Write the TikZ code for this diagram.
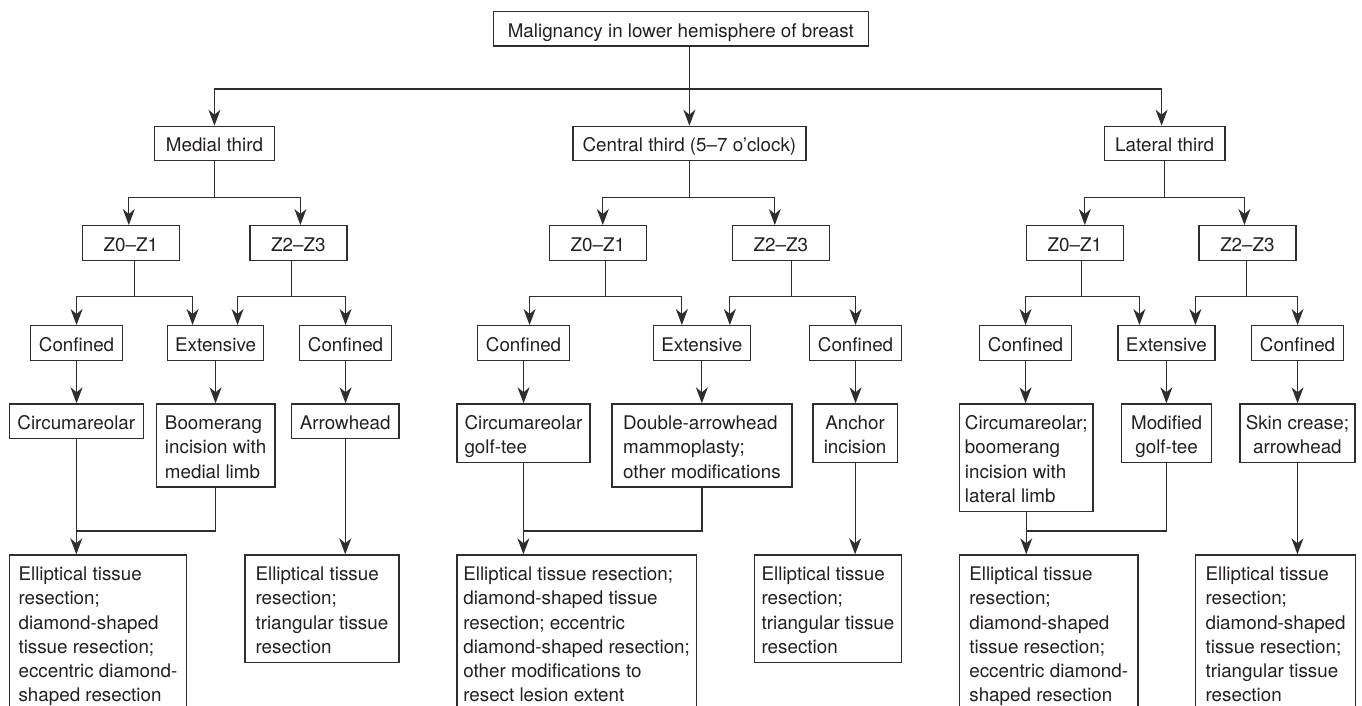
\documentclass[tikz,border=0pt]{standalone}
\usepackage{fontspec}
\setmainfont{TeX Gyre Heros}
\usetikzlibrary{arrows.meta}

\definecolor{inkline}{HTML}{2E2E2E}
\definecolor{inktext}{HTML}{231F20}

% struts for the first and last line of a box
\newcommand\topln{\rule{0pt}{17.5pt}}
\newcommand\lastln[1]{\smash{#1}\rule[-1pt]{0pt}{1pt}}

\tikzset{
  cell/.style={draw=inkline, line width=1.2pt, text=inktext, anchor=north west,
    inner xsep=0pt, inner ysep=8pt, font=\fontsize{18.8}{24.3}\selectfont},
  single/.style={cell, text height=17.5pt, text depth=1pt},
  multi/.style={cell, align=left},
  cmulti/.style={cell, align=center},
  link/.style={draw=inkline, line width=1.2pt},
  arr/.style={link, -{Stealth[length=16pt,width=12pt,inset=5pt]}},
}

\begin{document}
\begin{tikzpicture}[x=1pt,y=-1pt]
\useasboundingbox (0,0) rectangle (1362,706);

% root
\node[single, minimum width=375pt] (root) at (492.7,11) {Malignancy in lower hemisphere of breast};

% thirds
\node[single, minimum width=120.3pt] (medial) at (153.7,125.7) {Medial third};
\node[single, minimum width=233pt] (central) at (572.3,125.7) {Central third (5–7 o’clock)};
\node[single, minimum width=120.6pt] (lateral) at (1103.7,125.7) {Lateral third};

% zones
\node[single, minimum width=97pt] (mz01) at (81.7,225) {Z0–Z1};
\node[single, minimum width=97pt] (mz23) at (249.3,225) {Z2–Z3};
\node[single, minimum width=97pt] (cz01) at (548.7,225) {Z0–Z1};
\node[single, minimum width=97pt] (cz23) at (731.7,225) {Z2–Z3};
\node[single, minimum width=97pt] (lz01) at (1025.7,225) {Z0–Z1};
\node[single, minimum width=97pt] (lz23) at (1198.3,225) {Z2–Z3};

% extent
\node[single, minimum width=92.5pt] (mcon1) at (29.7,325) {Confined};
\node[single, minimum width=96.5pt] (mext) at (166.7,325) {Extensive};
\node[single, minimum width=92.5pt] (mcon2) at (298.7,325) {Confined};
\node[single, minimum width=92.5pt] (ccon1) at (476.7,325) {Confined};
\node[single, minimum width=96.5pt] (cext) at (653,325) {Extensive};
\node[single, minimum width=92.5pt] (ccon2) at (808.7,325) {Confined};
\node[single, minimum width=92.5pt] (lcon1) at (978.7,325) {Confined};
\node[single, minimum width=97pt] (lext) at (1117.3,325) {Extensive};
\node[single, minimum width=92.5pt] (lcon2) at (1250.7,325) {Confined};

% incisions
\node[single, minimum width=134pt] (mcirc) at (8.7,403.3) {Circumareolar};
\node[multi, minimum width=118.6pt] (mboom) at (155.7,403.3) {\topln Boomerang\\incision with\\\lastln{medial limb}};
\node[single, minimum width=107.3pt] (marrow) at (291,403.3) {Arrowhead};
\node[multi, minimum width=133pt] (cgolf) at (456.3,403.3) {\topln Circumareolar\\\lastln{golf-tee}};
\node[multi, minimum width=180pt] (cdouble) at (611.3,403.3) {\topln Double-arrowhead\\mammoplasty;\\\lastln{other modifications}};
\node[cmulti, minimum width=84.4pt] (canchor) at (812.3,403.3) {\topln Anchor\\\lastln{incision}};
\node[multi, minimum width=133.3pt] (lcirc) at (959,403.3) {\topln Circumareolar;\\boomerang\\incision with\\\lastln{lateral limb}};
\node[cmulti, minimum width=90pt] (lmod) at (1121,403.3) {\topln Modified\\\lastln{golf-tee}};
\node[cmulti, minimum width=115pt] (lskin) at (1239.3,403.3) {\topln Skin crease;\\\lastln{arrowhead}};

% resections
\node[multi, minimum width=177.3pt] (mres1) at (8.7,554.3) {\topln Elliptical tissue\\resection;\\diamond-shaped\\tissue resection;\\eccentric diamond-\\shaped resection};
\node[multi, minimum width=154pt] (mres2) at (244.3,554.3) {\topln Elliptical tissue\\resection;\\triangular tissue\\\lastln{resection}};
\node[multi, minimum width=239.4pt] (cres1) at (456.3,554.3) {\topln Elliptical tissue resection;\\diamond-shaped tissue\\resection; eccentric\\diamond-shaped resection;\\other modifications to\\resect lesion extent};
\node[multi, minimum width=147.3pt] (cres2) at (753.7,554.3) {\topln Elliptical tissue\\resection;\\triangular tissue\\\lastln{resection}};
\node[multi, minimum width=178.3pt] (lres1) at (959,554.3) {\topln Elliptical tissue\\resection;\\diamond-shaped\\tissue resection;\\eccentric diamond-\\shaped resection};
\node[multi, minimum width=160pt] (lres2) at (1195,554.3) {\topln Elliptical tissue\\resection;\\diamond-shaped\\tissue resection;\\triangular tissue\\resection};

% root to thirds
\draw[arr] (root.south -| central.north) -- (central.north);
\draw[arr] (central.north |- 0,89) -| (medial.north);
\draw[arr] (central.north |- 0,89) -| ([xshift=-3pt]lateral.north);

% thirds to zones
\draw[arr] (medial.south) -- ++(0,36) coordinate (mj) -| ([xshift=-2pt]mz01.north);
\draw[arr] (mj) -| ([xshift=2pt]mz23.north);
\draw[arr] (central.south) -- ++(0,36) coordinate (cj) -| ([xshift=5pt]cz01.north);
\draw[arr] (cj) -| ([xshift=-6pt]cz23.north);
\draw[arr] (lateral.south) -- ++(0,36) coordinate (lj) -| ([xshift=10pt]lz01.north);
\draw[arr] (lj) -| ([xshift=-3pt]lz23.north);

% zones to extent
\draw[arr] ([xshift=4pt]mz01.south) -- ++(0,36) coordinate (mj1) -| (mcon1.north);
\draw[arr] (mj1) -| ([xshift=-23pt]mext.north);
\draw[arr] ([xshift=-7pt]mz23.south) -- ++(0,36) coordinate (mj2) -| ([xshift=22pt]mext.north);
\draw[arr] (mj2) -| (mcon2.north);
\draw[arr] ([xshift=8pt]cz01.south) -- ++(0,36) coordinate (cj1) -| ([xshift=6pt]ccon1.north);
\draw[arr] (cj1) -| ([xshift=-20pt]cext.north);
\draw[arr] ([xshift=11pt]cz23.south) -- ++(0,36) coordinate (cj2) -| ([xshift=28pt]cext.north);
\draw[arr] (cj2) -| (ccon2.north);
\draw[arr] ([xshift=7pt]lz01.south) -- ++(0,36) coordinate (lj1) -| (lcon1.north);
\draw[arr] (lj1) -| ([xshift=-27pt]lext.north);
\draw[arr] ([xshift=-1pt]lz23.south) -- ++(0,36) coordinate (lj2) -| ([xshift=29pt]lext.north);
\draw[arr] (lj2) -| (lcon2.north);

% extent to incisions
\draw[arr] (mcon1.south) -- (mcon1.south |- mcirc.north);
\draw[arr] (mext.south) -- (mext.south |- mboom.north);
\draw[arr] (mcon2.south) -- (mcon2.south |- marrow.north);
\draw[arr] (ccon1.south) -- (ccon1.south |- cgolf.north);
\draw[arr] (cext.south) -- (cext.south |- cdouble.north);
\draw[arr] (ccon2.south) -- (ccon2.south |- canchor.north);
\draw[arr] (lcon1.south) -- (lcon1.south |- lcirc.north);
\draw[arr] (lext.south) -- (lext.south |- lmod.north);
\draw[arr] (lcon2.south) -- (lcon2.south |- lskin.north);

% incisions to resections
\draw[arr] (mcirc.south) -- (mcirc.south |- mres1.north);
\draw[link] (mboom.south) |- (mcirc.south |- 0,531);
\draw[arr] (marrow.south) -- (marrow.south |- mres2.north);
\draw[arr] (cgolf.south) -- (cgolf.south |- cres1.north);
\draw[link] (cdouble.south) |- (cgolf.south |- 0,531);
\draw[arr] (canchor.south) -- (canchor.south |- cres2.north);
\draw[arr] (lcirc.south) -- (lcirc.south |- lres1.north);
\draw[link] (lmod.south) |- (lcirc.south |- 0,531);
\draw[arr] (lskin.south) -- (lskin.south |- lres2.north);

\end{tikzpicture}
\end{document}
